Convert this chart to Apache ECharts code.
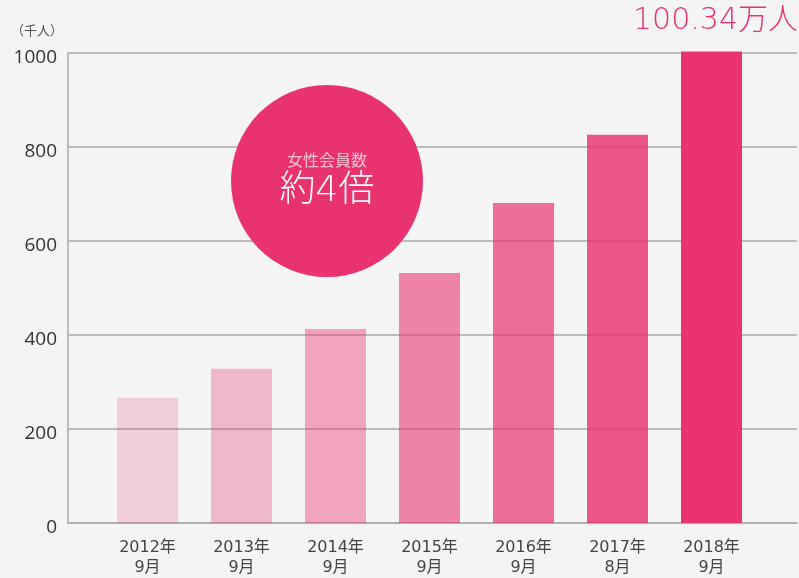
<!DOCTYPE html>
<html>
<head>
<meta charset="utf-8">
<script src="https://cdn.jsdelivr.net/npm/echarts@6/dist/echarts.min.js"></script>
<style>
  html, body { margin: 0; padding: 0; background: #f4f4f4; }
  #main { width: 799px; height: 578px; }
</style>
</head>
<body>
<div id="main"></div>
<script>
// data (unit: 千人)
const categories = ["2012年\n9月", "2013年\n9月", "2014年\n9月", "2015年\n9月", "2016年\n9月", "2017年\n8月", "2018年\n9月"];
const members = [266, 328, 413, 532, 681, 826, 1003.4];
const yTicks = [0, 200, 400, 600, 800, 1000];

// pink gets stronger year by year
const barOpacity = [0.2, 0.3, 0.42, 0.58, 0.7, 0.81, 1];

const font = '"DejaVu Sans", "Noto Sans CJK JP", sans-serif';
const pink = "#e8336e";

let chartDom = document.getElementById("main");
let myChart = echarts.init(chartDom);
let option;
option = {
  backgroundColor: "#f4f4f4",
  animation: false,
  textStyle: { fontFamily: font },
  grid: [
    { left: 68, right: 2, top: 53, bottom: 55 },
    { left: 100.5, width: 658, top: 53, bottom: 55 },
  ],
  xAxis: [
    {
      type: "category",
      gridIndex: 0,
      data: categories,
      axisLine: { lineStyle: { color: "#aaaaaa", width: 1.5 } },
      axisTick: { show: false },
      axisLabel: { show: false },
    },
    {
      type: "category",
      gridIndex: 1,
      data: categories,
      axisLine: { show: false },
      axisTick: { show: false },
      axisLabel: {
        margin: 15,
        fontSize: 16,
        lineHeight: 20,
        color: "#444444",
        fontFamily: font,
      },
    },
  ],
  yAxis: [
    {
      type: "value",
      gridIndex: 0,
      min: yTicks[0],
      max: yTicks[yTicks.length - 1],
      interval: 200,
      axisLine: { show: true, lineStyle: { color: "#aaaaaa", width: 1.5 } },
      axisTick: { show: false },
      splitLine: { lineStyle: { color: "#aaaaaa", width: 1.5 } },
      axisLabel: {
        margin: 11,
        fontSize: 19,
        color: "#333333",
        verticalAlign: "top",
        lineHeight: 9,
        fontFamily: '"Open Sans", sans-serif',
        formatter: (v) => String(v),
      },
    },
    {
      type: "value",
      gridIndex: 1,
      min: 0,
      max: 1000,
      show: false,
    },
  ],
  series: [
    {
      type: "bar",
      xAxisIndex: 1,
      yAxisIndex: 1,
      barWidth: 61,
      clip: false,
      data: members.map((v, i) => ({
        value: v,
        itemStyle: { color: pink, opacity: barOpacity[i] },
      })),
    },
  ],
  graphic: [
    {
      type: "text",
      left: 11,
      top: 24,
      style: { text: "（千人）", fill: "#555555", font: '13px "Noto Sans CJK JP", sans-serif' },
    },
    {
      type: "text",
      z: 100,
      right: 1,
      top: 6,
      style: { text: "100.34万人", fill: pink, font: '200 30px ' + font },
    },
    {
      type: "circle",
      z: 100,
      shape: { cx: 327, cy: 181, r: 96 },
      style: { fill: pink },
    },
    {
      type: "text",
      z: 101,
      x: 327,
      y: 160,
      style: {
        text: "女性会員数",
        fill: "#f7c2d3",
        font: '16px "Noto Sans CJK JP", sans-serif',
        align: "center",
        verticalAlign: "middle",
      },
    },
    {
      type: "text",
      z: 101,
      x: 327,
      y: 192,
      style: {
        text: "約4倍",
        fill: "#ffffff",
        font: '200 36px ' + font,
        align: "center",
        verticalAlign: "middle",
      },
    },
  ],
};
myChart.setOption(option);
</script>
</body>
</html>
